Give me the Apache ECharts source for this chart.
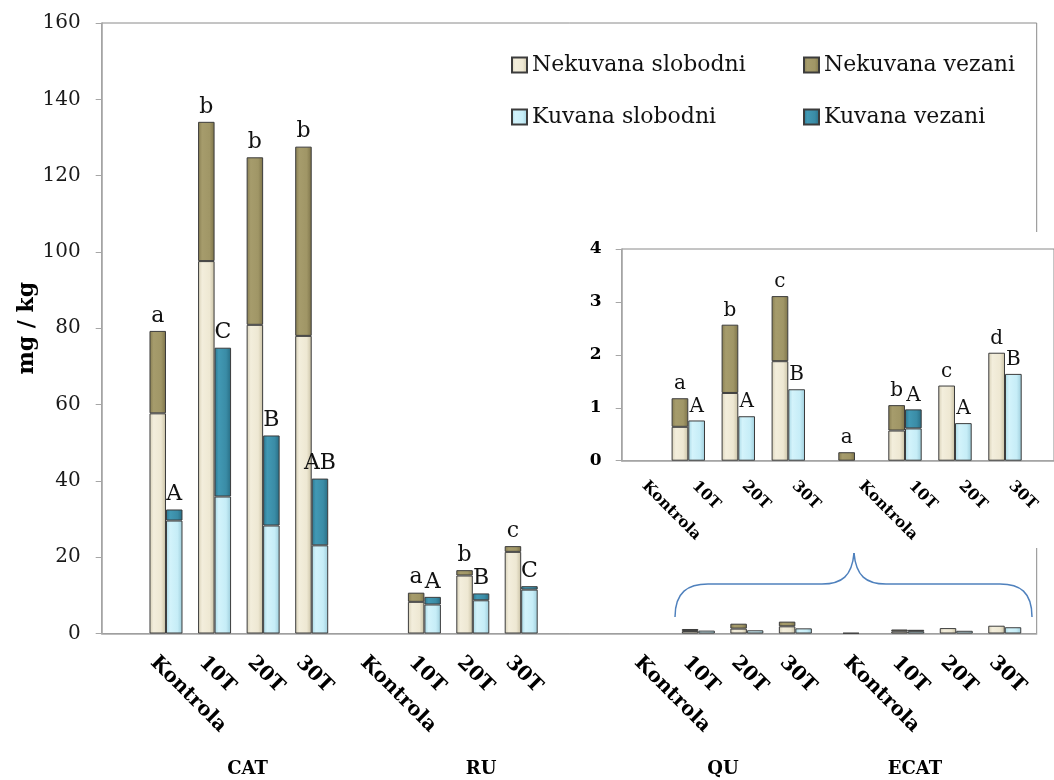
<!DOCTYPE html>
<html><head><meta charset="utf-8">
<script src="https://cdn.jsdelivr.net/npm/echarts@6/dist/echarts.min.js"></script>
<style>html,body{margin:0;padding:0;background:#fff}#c{width:1054px;height:780px}</style>
</head><body><div id="c"></div>
<script>
// ---- data ----
const categories = ['Kontrola', '10T', '20T', '30T'];
const groups = ['CAT', 'RU', 'QU', 'ECAT'];
const seriesNames = ['Nekuvana slobodni', 'Nekuvana vezani', 'Kuvana slobodni', 'Kuvana vezani'];
const mainYMax = 160, mainYStep = 20;
const insetYMax = 4, insetYStep = 1;

const catNekSlobodni = [57.7, 97.6, 80.9, 78.0];
const catNekVezani   = [21.6, 36.5, 43.9, 49.6];
const catKuvSlobodni = [29.6, 35.9, 28.3, 23.1];
const catKuvVezani   = [2.9, 39.0, 23.6, 17.5];
const ruNekSlobodni  = [0, 8.3, 15.2, 21.4];
const ruNekVezani    = [0, 2.4, 1.4, 1.5];
const ruKuvSlobodni  = [0, 7.6, 8.7, 11.5];
const ruKuvVezani    = [0, 2.0, 1.8, 0.9];
const quNekSlobodni  = [0, 0.64, 1.28, 1.88];
const quNekVezani    = [0, 0.54, 1.29, 1.23];
const quKuvSlobodni  = [0, 0.76, 0.84, 1.35];
const quKuvVezani    = [0, 0, 0, 0];
const ecatNekSlobodni = [0, 0.57, 1.42, 2.04];
const ecatNekVezani   = [0.16, 0.48, 0, 0];
const ecatKuvSlobodni = [0, 0.61, 0.71, 1.64];
const ecatKuvVezani   = [0, 0.36, 0, 0];

const catNekLetters = ['a', 'b', 'b', 'b'];
const catKuvLetters = ['A', 'C', 'B', 'AB'];
const ruNekLetters = ['', 'a', 'b', 'c'];
const ruKuvLetters = ['', 'A', 'B', 'C'];
const quNekLetters = ['', 'a', 'b', 'c'];
const quKuvLetters = ['', 'A', 'A', 'B'];
const ecatNekLetters = ['a', 'b', 'c', 'd'];
const ecatKuvLetters = ['', 'A', 'A', 'B'];

// ---- style ----
const FONT = '"DejaVu Serif", serif';
function grad(a, b, c, d) {
  return { type: 'linear', x: 0, y: 0, x2: 1, y2: 0,
    colorStops: [{offset: 0, color: a}, {offset: 0.25, color: b}, {offset: 0.7, color: c}, {offset: 1, color: d}] };
}
const colors = [
  grad('#D6CFB6', '#F3EEDC', '#EEE8D3', '#C9C1A4'),
  grad('#877D51', '#A69C6C', '#A09666', '#7C7248'),
  grad('#A9D9E6', '#D3F3FB', '#C6EDF7', '#9CCCDA'),
  grad('#2B768F', '#4299B4', '#3A8CA6', '#286C83')
];
const BORDER = '#3c3c3c';

function groupSeries(ax, data, letters, barW, fontSize, z) {
  const stacks = ['n' + ax, 'n' + ax, 'k' + ax, 'k' + ax];
  return data.map((d, i) => {
    const s = {
      name: seriesNames[i], type: 'bar', xAxisIndex: ax, yAxisIndex: ax,
      stack: stacks[i], barWidth: barW, barGap: '0%', z: z,
      data: d.map(v => v === 0 ? { value: 0, itemStyle: { borderWidth: 0, color: 'rgba(0,0,0,0)' } } : v),
      itemStyle: { color: colors[i], borderColor: BORDER, borderWidth: 1 },
      emphasis: { disabled: true }
    };
    if (letters && (i === 1 || i === 3)) {
      const L = letters[i === 1 ? 0 : 1];
      s.label = { show: true, position: 'top', distance: 4, fontFamily: FONT, fontSize: fontSize, color: '#111',
        formatter: p => L[p.dataIndex] };
    }
    return s;
  });
}

// ---- layout ----
const mainTop = 23, mainH = 610.5;
const mainGroupLeft = [141.7, 351.8, 625.6, 835];
const mainGroupW = [194.3, 193.6, 194, 194];
const labelShift = -12.5;
const insTop = 249, insH = 211.7;
const insGroupLeft = [613.3, 830];
const insLabelShift = 6;

const grid = [], xAxis = [], yAxis = [], series = [];
// 0: main frame
grid.push({ left: 101.7, top: mainTop, width: 935, height: mainH, show: true, borderColor: '#8a8a8a', borderWidth: 1 });
xAxis.push({ type: 'value', gridIndex: 0, min: 0, max: 1, axisLine: { show: true, lineStyle: { color: '#a6a6a6', width: 1.5 } },
  axisTick: { show: false }, axisLabel: { show: false }, splitLine: { show: false } });
yAxis.push({ type: 'value', gridIndex: 0, min: 0, max: mainYMax, interval: mainYStep,
  axisLine: { show: true, lineStyle: { color: '#a6a6a6', width: 1.5 } },
  axisTick: { show: true, length: 6, lineStyle: { color: '#a6a6a6' } },
  axisLabel: { fontFamily: FONT, fontSize: 20, color: '#1a1a1a', margin: 21 },
  splitLine: { show: false },
  name: 'mg / kg', nameLocation: 'middle', nameGap: 63, nameRotate: 90, nameMoveOverlap: false,
  nameTextStyle: { fontFamily: FONT, fontSize: 22, fontWeight: 'bold', color: '#000' } });

const mainData = [
  [catNekSlobodni, catNekVezani, catKuvSlobodni, catKuvVezani],
  [ruNekSlobodni, ruNekVezani, ruKuvSlobodni, ruKuvVezani],
  [quNekSlobodni, quNekVezani, quKuvSlobodni, quKuvVezani],
  [ecatNekSlobodni, ecatNekVezani, ecatKuvSlobodni, ecatKuvVezani]
];
const mainLetters = [[catNekLetters, catKuvLetters], [ruNekLetters, ruKuvLetters], null, null];

// 1-4: main bar grids
for (let g = 0; g < 4; g++) {
  const idx = grid.length;
  grid.push({ left: mainGroupLeft[g], top: mainTop, width: mainGroupW[g], height: mainH });
  xAxis.push({ type: 'category', gridIndex: idx, data: categories, show: false });
  yAxis.push({ type: 'value', gridIndex: idx, min: 0, max: mainYMax, show: false });
  series.push(...groupSeries(idx, mainData[g], mainLetters[g], 16.5, 22, 2));
}
// 5-8: main label grids
for (let g = 0; g < 4; g++) {
  const idx = grid.length;
  grid.push({ left: mainGroupLeft[g] + labelShift, top: mainTop, width: mainGroupW[g], height: mainH });
  xAxis.push({ type: 'category', gridIndex: idx, data: categories,
    axisLine: { show: false }, axisTick: { show: false },
    axisLabel: { interval: 0, rotate: -45, margin: 26, fontFamily: FONT, fontWeight: 'bold', fontSize: 20, color: '#000' } });
  yAxis.push({ type: 'value', gridIndex: idx, min: 0, max: mainYMax, show: false });
}
// inset frame
const insFrame = grid.length;
grid.push({ left: 621.7, top: insTop, width: 436, height: insH, show: true, borderColor: '#8a8a8a', borderWidth: 1, z: 10 });
xAxis.push({ type: 'value', gridIndex: insFrame, min: 0, max: 1, z: 10, axisLine: { show: true, lineStyle: { color: '#a6a6a6', width: 1.5 } },
  axisTick: { show: false }, axisLabel: { show: false }, splitLine: { show: false } });
yAxis.push({ type: 'value', gridIndex: insFrame, min: 0, max: insetYMax, interval: insetYStep, z: 10,
  axisLine: { show: true, lineStyle: { color: '#a6a6a6', width: 1.5 } },
  axisTick: { show: true, length: 6, lineStyle: { color: '#a6a6a6' } },
  axisLabel: { fontFamily: FONT, fontSize: 17, fontWeight: 'bold', color: '#000', margin: 20 },
  splitLine: { show: false } });
// inset bar grids (QU, ECAT)
const insData = [mainData[2], mainData[3]];
const insLetters = [[quNekLetters, quKuvLetters], [ecatNekLetters, ecatKuvLetters]];
for (let g = 0; g < 2; g++) {
  const idx = grid.length;
  grid.push({ left: insGroupLeft[g], top: insTop, width: 200, height: insH, z: 10 });
  xAxis.push({ type: 'category', gridIndex: idx, data: categories, show: false });
  yAxis.push({ type: 'value', gridIndex: idx, min: 0, max: insetYMax, show: false });
  series.push(...groupSeries(idx, insData[g], insLetters[g], 16.7, 20, 10));
}
// inset label grids
for (let g = 0; g < 2; g++) {
  const idx = grid.length;
  grid.push({ left: insGroupLeft[g] + insLabelShift, top: insTop, width: 200, height: insH, z: 10 });
  xAxis.push({ type: 'category', gridIndex: idx, data: categories, z: 10,
    axisLine: { show: false }, axisTick: { show: false },
    axisLabel: { interval: 0, rotate: -45, margin: 23, fontFamily: FONT, fontWeight: 'bold', fontSize: 15.5, color: '#000' } });
  yAxis.push({ type: 'value', gridIndex: idx, min: 0, max: insetYMax, show: false });
}

const groupLabelX = [247.5, 481, 723, 915];
const braceStyle = { stroke: '#4F81BD', fill: null, lineWidth: 1.5 };
const graphic = [
  { type: 'rect', z: 5, shape: { x: 583, y: 232, width: 471, height: 316 }, style: { fill: '#ffffff' } },
  { type: 'bezierCurve', z: 5, shape: { x1: 675, y1: 617, cpx1: 675, cpy1: 592, cpx2: 688, cpy2: 584, x2: 708, y2: 584 }, style: braceStyle },
  { type: 'line', z: 5, shape: { x1: 708, y1: 584, x2: 822, y2: 584 }, style: braceStyle },
  { type: 'bezierCurve', z: 5, shape: { x1: 822, y1: 584, cpx1: 842, cpy1: 584, cpx2: 852, cpy2: 576, x2: 854, y2: 553 }, style: braceStyle },
  { type: 'bezierCurve', z: 5, shape: { x1: 854, y1: 553, cpx1: 856, cpy1: 576, cpx2: 866, cpy2: 584, x2: 886, y2: 584 }, style: braceStyle },
  { type: 'line', z: 5, shape: { x1: 886, y1: 584, x2: 1000, y2: 584 }, style: braceStyle },
  { type: 'bezierCurve', z: 5, shape: { x1: 1000, y1: 584, cpx1: 1020, cpy1: 584, cpx2: 1032, cpy2: 592, x2: 1032, y2: 617 }, style: braceStyle }
];
groups.forEach((g, i) => graphic.push({ type: 'text', z: 5, x: groupLabelX[i], y: 769,
  style: { text: g, fill: '#000', font: 'bold 18px "DejaVu Serif"', textAlign: 'center', textVerticalAlign: 'middle' } }));

const legendPos = [[511, 54], [803, 54], [511, 106], [803, 106]];
const legend = seriesNames.map((n, i) => ({
  data: [n], left: legendPos[i][0], top: legendPos[i][1], padding: 0, itemWidth: 15, itemHeight: 15,
  icon: 'rect', selectedMode: false,
  textStyle: { fontFamily: FONT, fontSize: 22, color: '#111' }
}));

const chart = echarts.init(document.getElementById('c'), null, { renderer: 'canvas' });
chart.setOption({
  animation: false, backgroundColor: '#fff',
  grid, xAxis, yAxis, series, legend, graphic
});
</script></body></html>
